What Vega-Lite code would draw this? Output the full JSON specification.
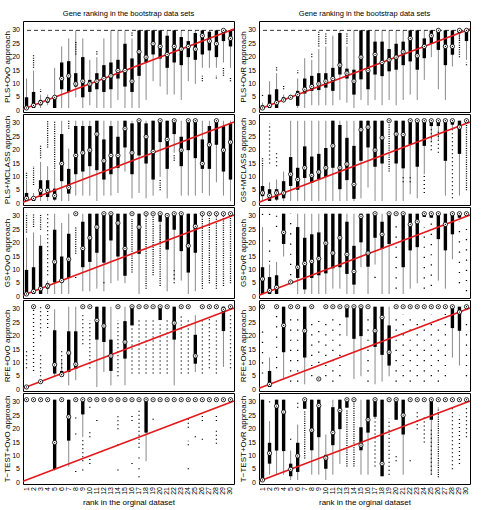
{
  "$schema": "https://vega.github.io/schema/vega-lite/v6.json",
  "padding": {"left": 2, "top": 9, "right": 5, "bottom": 2},
  "background": "white",
  "config": {
    "font": "Liberation Sans",
    "view": {"stroke": "black", "strokeWidth": 1},
    "axis": {"grid": false, "domain": false, "ticks": false, "labels": false, "titleFontSize": 8, "titleFontWeight": "normal", "titleColor": "black", "titlePadding": 12},
    "axisX": {"titlePadding": 14},
    "text": {"fontSize": 7, "color": "black"},
    "title": {"fontSize": 7.5, "fontWeight": "normal", "offset": 4}
  },
  "datasets": {
    "diag": [{"r": 0.5, "v": 0.5}, {"r": 30.5, "v": 30.5}],
    "yt": [{"v": 0}, {"v": 5}, {"v": 10}, {"v": 15}, {"v": 20}, {"v": 25}, {"v": 30}],
    "xt": [{"r":1},{"r":2},{"r":3},{"r":4},{"r":5},{"r":6},{"r":7},{"r":8},{"r":9},{"r":10},{"r":11},{"r":12},{"r":13},{"r":14},{"r":15},{"r":16},{"r":17},{"r":18},{"r":19},{"r":20},{"r":21},{"r":22},{"r":23},{"r":24},{"r":25},{"r":26},{"r":27},{"r":28},{"r":29},{"r":30}],
    "box": [
      {"p":"L1","r":1,"lo":1,"q1":1,"m":1,"q3":5,"hi":12},{"p":"L1","r":2,"lo":1,"q1":1,"m":2,"q3":7,"hi":15},{"p":"L1","r":3,"lo":1,"q1":2,"m":3,"q3":4,"hi":6},{"p":"L1","r":4,"lo":2,"q1":3,"m":4,"q3":5,"hi":6},{"p":"L1","r":5,"lo":1,"q1":1,"m":5,"q3":5.5,"hi":16},{"p":"L1","r":6,"lo":1,"q1":8,"m":12,"q3":18,"hi":24},{"p":"L1","r":7,"lo":1,"q1":7,"m":13,"q3":18.5,"hi":27},{"p":"L1","r":8,"lo":5,"q1":9,"m":10,"q3":14,"hi":30},{"p":"L1","r":9,"lo":1,"q1":5,"m":11,"q3":20,"hi":27},{"p":"L1","r":10,"lo":2,"q1":7,"m":10,"q3":11.5,"hi":19},
      {"p":"L1","r":11,"lo":1,"q1":8,"m":11,"q3":14,"hi":20},{"p":"L1","r":12,"lo":1,"q1":7,"m":12,"q3":17,"hi":27},{"p":"L1","r":13,"lo":1,"q1":8,"m":13,"q3":18,"hi":30},{"p":"L1","r":14,"lo":4,"q1":12,"m":15,"q3":19,"hi":30},{"p":"L1","r":15,"lo":1,"q1":9,"m":15,"q3":25,"hi":30},{"p":"L1","r":16,"lo":1,"q1":7,"m":11,"q3":19.5,"hi":27},{"p":"L1","r":17,"lo":1,"q1":13,"m":22,"q3":30,"hi":30},{"p":"L1","r":18,"lo":4,"q1":18,"m":20,"q3":30,"hi":30},{"p":"L1","r":19,"lo":11,"q1":21,"m":25,"q3":30,"hi":30},{"p":"L1","r":20,"lo":9,"q1":19.5,"m":24,"q3":30,"hi":30},
      {"p":"L1","r":21,"lo":6,"q1":16,"m":21,"q3":28,"hi":30},{"p":"L1","r":22,"lo":6,"q1":18,"m":24,"q3":30,"hi":30},{"p":"L1","r":23,"lo":4,"q1":17,"m":23,"q3":27.5,"hi":30},{"p":"L1","r":24,"lo":11,"q1":20,"m":24,"q3":26,"hi":30},{"p":"L1","r":25,"lo":10,"q1":19,"m":23,"q3":29,"hi":30},{"p":"L1","r":26,"lo":16,"q1":21,"m":28,"q3":30,"hi":30},{"p":"L1","r":27,"lo":16,"q1":22.5,"m":26,"q3":29.5,"hi":30},{"p":"L1","r":28,"lo":16,"q1":20,"m":25,"q3":30,"hi":30},{"p":"L1","r":29,"lo":18,"q1":26,"m":30,"q3":30,"hi":30},{"p":"L1","r":30,"lo":16,"q1":24,"m":27,"q3":30,"hi":30},

      {"p":"L2","r":1,"lo":1,"q1":1,"m":2,"q3":4,"hi":9},{"p":"L2","r":2,"lo":1,"q1":1,"m":2,"q3":2.5,"hi":4},{"p":"L2","r":3,"lo":1,"q1":2.5,"m":5,"q3":8.75,"hi":15.6},{"p":"L2","r":4,"lo":1,"q1":2.5,"m":5,"q3":8.75,"hi":14},{"p":"L2","r":5,"lo":1,"q1":1.5,"m":3,"q3":5.6,"hi":12.5},{"p":"L2","r":6,"lo":1,"q1":8.4,"m":15,"q3":26,"hi":31},{"p":"L2","r":7,"lo":1,"q1":3.75,"m":6,"q3":13,"hi":20.6},{"p":"L2","r":8,"lo":3,"q1":11,"m":18,"q3":29,"hi":31},{"p":"L2","r":9,"lo":3,"q1":12,"m":19,"q3":29,"hi":31},{"p":"L2","r":10,"lo":3,"q1":14,"m":20,"q3":29,"hi":31},
      {"p":"L2","r":11,"lo":1,"q1":12.5,"m":26,"q3":31,"hi":31},{"p":"L2","r":12,"lo":3,"q1":9,"m":16,"q3":24,"hi":31},{"p":"L2","r":13,"lo":3,"q1":11,"m":18,"q3":29,"hi":31},{"p":"L2","r":14,"lo":4,"q1":13.4,"m":18,"q3":25,"hi":31},{"p":"L2","r":15,"lo":12,"q1":21,"m":28,"q3":31,"hi":31},{"p":"L2","r":16,"lo":2,"q1":11,"m":19,"q3":30,"hi":31},{"p":"L2","r":17,"lo":4,"q1":18,"m":31,"q3":31,"hi":31},{"p":"L2","r":18,"lo":2,"q1":15,"m":25,"q3":30,"hi":31},{"p":"L2","r":19,"lo":3,"q1":9,"m":19.5,"q3":31,"hi":31},{"p":"L2","r":20,"lo":10,"q1":23,"m":31,"q3":31,"hi":31},
      {"p":"L2","r":21,"lo":2,"q1":13,"m":24,"q3":31,"hi":31},{"p":"L2","r":22,"lo":19,"q1":26,"m":31,"q3":31,"hi":31},{"p":"L2","r":23,"lo":3,"q1":14,"m":20,"q3":25,"hi":31},{"p":"L2","r":24,"lo":3,"q1":20,"m":31,"q3":31,"hi":31},{"p":"L2","r":25,"lo":3,"q1":17,"m":31,"q3":31,"hi":31},{"p":"L2","r":26,"lo":4,"q1":13,"m":15,"q3":24,"hi":31},{"p":"L2","r":27,"lo":3,"q1":13,"m":22,"q3":29,"hi":31},{"p":"L2","r":28,"lo":8,"q1":22,"m":31,"q3":31,"hi":31},{"p":"L2","r":29,"lo":3,"q1":12,"m":20,"q3":29,"hi":31},{"p":"L2","r":30,"lo":1,"q1":9,"m":23,"q3":30,"hi":31},

      {"p":"L3","r":1,"lo":1,"q1":1,"m":1,"q3":10,"hi":22},{"p":"L3","r":2,"lo":1,"q1":1,"m":2,"q3":11,"hi":24},{"p":"L3","r":3,"lo":1,"q1":1,"m":3,"q3":19,"hi":23},{"p":"L3","r":4,"lo":1,"q1":3,"m":4,"q3":5,"hi":6},{"p":"L3","r":5,"lo":1,"q1":5.3,"m":13,"q3":25,"hi":31},{"p":"L3","r":6,"lo":1,"q1":5.3,"m":6,"q3":15,"hi":27.5},{"p":"L3","r":7,"lo":1,"q1":7,"m":14,"q3":23.5,"hi":31},{"p":"L3","r":8,"lo":31,"q1":31,"m":31,"q3":31,"hi":31},{"p":"L3","r":9,"lo":2,"q1":11,"m":18,"q3":28,"hi":31},{"p":"L3","r":10,"lo":2,"q1":13,"m":22,"q3":31,"hi":31},
      {"p":"L3","r":11,"lo":3,"q1":16.4,"m":26,"q3":31,"hi":31},{"p":"L3","r":12,"lo":2,"q1":12.7,"m":31,"q3":31,"hi":31},{"p":"L3","r":13,"lo":5,"q1":21,"m":31,"q3":31,"hi":31},{"p":"L3","r":14,"lo":6,"q1":15,"m":27.5,"q3":31,"hi":31},{"p":"L3","r":15,"lo":5,"q1":7.8,"m":18,"q3":31,"hi":31},{"p":"L3","r":16,"lo":31,"q1":31,"m":31,"q3":31,"hi":31},{"p":"L3","r":17,"lo":1,"q1":16,"m":26,"q3":31,"hi":31},{"p":"L3","r":18,"lo":31,"q1":31,"m":31,"q3":31,"hi":31},{"p":"L3","r":19,"lo":31,"q1":31,"m":31,"q3":31,"hi":31},{"p":"L3","r":20,"lo":20,"q1":28,"m":31,"q3":31,"hi":31},
      {"p":"L3","r":21,"lo":2,"q1":17.6,"m":30.3,"q3":31,"hi":31},{"p":"L3","r":22,"lo":6,"q1":25,"m":31,"q3":31,"hi":31},{"p":"L3","r":23,"lo":6,"q1":17,"m":31,"q3":31,"hi":31},{"p":"L3","r":24,"lo":1,"q1":9,"m":19,"q3":31,"hi":31},{"p":"L3","r":25,"lo":2,"q1":16.4,"m":26.3,"q3":31,"hi":31},{"p":"L3","r":26,"lo":31,"q1":31,"m":31,"q3":31,"hi":31},{"p":"L3","r":27,"lo":31,"q1":31,"m":31,"q3":31,"hi":31},{"p":"L3","r":28,"lo":31,"q1":31,"m":31,"q3":31,"hi":31},{"p":"L3","r":29,"lo":31,"q1":31,"m":31,"q3":31,"hi":31},{"p":"L3","r":30,"lo":31,"q1":31,"m":31,"q3":31,"hi":31},

      {"p":"L4","r":1,"lo":1,"q1":1,"m":1,"q3":1,"hi":1},{"p":"L4","r":2,"lo":31,"q1":31,"m":31,"q3":31,"hi":31},{"p":"L4","r":3,"lo":3,"q1":3,"m":3,"q3":3,"hi":3},{"p":"L4","r":4,"lo":31,"q1":31,"m":31,"q3":31,"hi":31},{"p":"L4","r":5,"lo":5,"q1":6,"m":9.3,"q3":22.2,"hi":30},{"p":"L4","r":6,"lo":5,"q1":5,"m":5.6,"q3":7,"hi":11},{"p":"L4","r":7,"lo":1.6,"q1":6.6,"m":13.7,"q3":21.8,"hi":31},{"p":"L4","r":8,"lo":3.5,"q1":7.8,"m":9.5,"q3":21.8,"hi":31},{"p":"L4","r":9,"lo":31,"q1":31,"m":31,"q3":31,"hi":31},{"p":"L4","r":10,"lo":31,"q1":31,"m":31,"q3":31,"hi":31},
      {"p":"L4","r":11,"lo":1,"q1":18.7,"m":25.9,"q3":31,"hi":31},{"p":"L4","r":12,"lo":6.6,"q1":17.8,"m":23.8,"q3":31,"hi":31},{"p":"L4","r":13,"lo":1.6,"q1":7,"m":12.6,"q3":18.7,"hi":31},{"p":"L4","r":14,"lo":31,"q1":31,"m":31,"q3":31,"hi":31},{"p":"L4","r":15,"lo":1.6,"q1":11.6,"m":17.8,"q3":25.6,"hi":31},{"p":"L4","r":16,"lo":24,"q1":24,"m":31,"q3":31,"hi":31},{"p":"L4","r":17,"lo":31,"q1":31,"m":31,"q3":31,"hi":31},{"p":"L4","r":18,"lo":31,"q1":31,"m":31,"q3":31,"hi":31},{"p":"L4","r":19,"lo":31,"q1":31,"m":31,"q3":31,"hi":31},{"p":"L4","r":20,"lo":26,"q1":26,"m":31,"q3":31,"hi":31},
      {"p":"L4","r":21,"lo":31,"q1":31,"m":31,"q3":31,"hi":31},{"p":"L4","r":22,"lo":1.6,"q1":18.7,"m":24.9,"q3":31,"hi":31},{"p":"L4","r":23,"lo":31,"q1":31,"m":31,"q3":31,"hi":31},{"p":"L4","r":24,"lo":31,"q1":31,"m":31,"q3":31,"hi":31},{"p":"L4","r":25,"lo":6.6,"q1":9.7,"m":12.6,"q3":20.5,"hi":27.8},{"p":"L4","r":26,"lo":31,"q1":31,"m":31,"q3":31,"hi":31},{"p":"L4","r":27,"lo":31,"q1":31,"m":31,"q3":31,"hi":31},{"p":"L4","r":28,"lo":31,"q1":31,"m":31,"q3":31,"hi":31},{"p":"L4","r":29,"lo":8.5,"q1":21.9,"m":30,"q3":31,"hi":31},{"p":"L4","r":30,"lo":31,"q1":31,"m":31,"q3":31,"hi":31},

      {"p":"L5","r":1,"lo":31,"q1":31,"m":31,"q3":31,"hi":31},{"p":"L5","r":2,"lo":31,"q1":31,"m":31,"q3":31,"hi":31},{"p":"L5","r":3,"lo":31,"q1":31,"m":31,"q3":31,"hi":31},{"p":"L5","r":4,"lo":31,"q1":31,"m":31,"q3":31,"hi":31},{"p":"L5","r":5,"lo":4.5,"q1":5,"m":15,"q3":31,"hi":31},{"p":"L5","r":6,"lo":31,"q1":31,"m":31,"q3":31,"hi":31},{"p":"L5","r":7,"lo":6,"q1":15.7,"m":24.6,"q3":31,"hi":31},{"p":"L5","r":8,"lo":31,"q1":31,"m":31,"q3":31,"hi":31},{"p":"L5","r":9,"lo":17,"q1":25.5,"m":31,"q3":31,"hi":31},{"p":"L5","r":10,"lo":31,"q1":31,"m":31,"q3":31,"hi":31},
      {"p":"L5","r":11,"lo":31,"q1":31,"m":31,"q3":31,"hi":31},{"p":"L5","r":12,"lo":31,"q1":31,"m":31,"q3":31,"hi":31},{"p":"L5","r":13,"lo":31,"q1":31,"m":31,"q3":31,"hi":31},{"p":"L5","r":14,"lo":31,"q1":31,"m":31,"q3":31,"hi":31},{"p":"L5","r":15,"lo":31,"q1":31,"m":31,"q3":31,"hi":31},{"p":"L5","r":16,"lo":31,"q1":31,"m":31,"q3":31,"hi":31},{"p":"L5","r":17,"lo":31,"q1":31,"m":31,"q3":31,"hi":31},{"p":"L5","r":18,"lo":8,"q1":18.7,"m":31,"q3":31,"hi":31},{"p":"L5","r":19,"lo":31,"q1":31,"m":31,"q3":31,"hi":31},{"p":"L5","r":20,"lo":31,"q1":31,"m":31,"q3":31,"hi":31},
      {"p":"L5","r":21,"lo":31,"q1":31,"m":31,"q3":31,"hi":31},{"p":"L5","r":22,"lo":31,"q1":31,"m":31,"q3":31,"hi":31},{"p":"L5","r":23,"lo":31,"q1":31,"m":31,"q3":31,"hi":31},{"p":"L5","r":24,"lo":31,"q1":31,"m":31,"q3":31,"hi":31},{"p":"L5","r":25,"lo":31,"q1":31,"m":31,"q3":31,"hi":31},{"p":"L5","r":26,"lo":31,"q1":31,"m":31,"q3":31,"hi":31},{"p":"L5","r":27,"lo":31,"q1":31,"m":31,"q3":31,"hi":31},{"p":"L5","r":28,"lo":31,"q1":31,"m":31,"q3":31,"hi":31},{"p":"L5","r":29,"lo":31,"q1":31,"m":31,"q3":31,"hi":31},{"p":"L5","r":30,"lo":31,"q1":31,"m":31,"q3":31,"hi":31},

      {"p":"R1","r":1,"lo":1,"q1":1,"m":1,"q3":2,"hi":3},{"p":"R1","r":2,"lo":1,"q1":1,"m":2,"q3":6,"hi":11},{"p":"R1","r":3,"lo":1,"q1":1,"m":3,"q3":8,"hi":14},{"p":"R1","r":4,"lo":3,"q1":4,"m":4,"q3":5,"hi":6},{"p":"R1","r":5,"lo":4,"q1":5,"m":5,"q3":5.5,"hi":6},{"p":"R1","r":6,"lo":1,"q1":1.8,"m":6,"q3":7.4,"hi":12},{"p":"R1","r":7,"lo":1,"q1":6.4,"m":8,"q3":12,"hi":19.6},{"p":"R1","r":8,"lo":2,"q1":7.4,"m":9,"q3":13,"hi":19},{"p":"R1","r":9,"lo":2,"q1":7.7,"m":10,"q3":14,"hi":23},{"p":"R1","r":10,"lo":2,"q1":8.6,"m":11,"q3":14,"hi":24},
      {"p":"R1","r":11,"lo":2,"q1":7.4,"m":12,"q3":16,"hi":28},{"p":"R1","r":12,"lo":4,"q1":13.5,"m":17,"q3":29,"hi":30},{"p":"R1","r":13,"lo":3,"q1":12,"m":14,"q3":15.7,"hi":24},{"p":"R1","r":14,"lo":1,"q1":6,"m":11,"q3":15.3,"hi":30},{"p":"R1","r":15,"lo":4,"q1":11.7,"m":20,"q3":30,"hi":30},{"p":"R1","r":16,"lo":2,"q1":8,"m":15,"q3":30,"hi":30},{"p":"R1","r":17,"lo":4,"q1":13.5,"m":21,"q3":25.8,"hi":30},{"p":"R1","r":18,"lo":2,"q1":12.9,"m":18,"q3":25.8,"hi":30},{"p":"R1","r":19,"lo":4,"q1":14.7,"m":19,"q3":23,"hi":30},{"p":"R1","r":20,"lo":2,"q1":15.3,"m":20,"q3":25,"hi":30},
      {"p":"R1","r":21,"lo":4,"q1":17,"m":22,"q3":25.8,"hi":30},{"p":"R1","r":22,"lo":6,"q1":18.4,"m":27,"q3":30,"hi":30},{"p":"R1","r":23,"lo":4,"q1":15.3,"m":20.5,"q3":30,"hi":30},{"p":"R1","r":24,"lo":11.5,"q1":19.6,"m":24,"q3":27,"hi":30},{"p":"R1","r":25,"lo":20,"q1":25,"m":28,"q3":30,"hi":30},{"p":"R1","r":26,"lo":8,"q1":22.7,"m":30,"q3":30,"hi":30},{"p":"R1","r":27,"lo":4,"q1":17,"m":24,"q3":30,"hi":30},{"p":"R1","r":28,"lo":16.5,"q1":20.9,"m":24,"q3":30,"hi":30},{"p":"R1","r":29,"lo":26,"q1":29,"m":30,"q3":30,"hi":30},{"p":"R1","r":30,"lo":19,"q1":26,"m":30,"q3":30,"hi":30},

      {"p":"R2","r":1,"lo":1,"q1":2.8,"m":4,"q3":6.6,"hi":13.8},{"p":"R2","r":2,"lo":1,"q1":1,"m":3,"q3":5.4,"hi":8},{"p":"R2","r":3,"lo":1,"q1":1.5,"m":4,"q3":5.4,"hi":9},{"p":"R2","r":4,"lo":1,"q1":2,"m":4,"q3":8.4,"hi":12},{"p":"R2","r":5,"lo":1,"q1":6.6,"m":11,"q3":17.4,"hi":31},{"p":"R2","r":6,"lo":1,"q1":5.2,"m":9,"q3":13.4,"hi":31},{"p":"R2","r":7,"lo":1,"q1":9.6,"m":13.4,"q3":21.4,"hi":31},{"p":"R2","r":8,"lo":1,"q1":7.8,"m":10.6,"q3":17.6,"hi":31},{"p":"R2","r":9,"lo":1,"q1":9.2,"m":11.8,"q3":18.6,"hi":31},{"p":"R2","r":10,"lo":1,"q1":10,"m":13.4,"q3":20.8,"hi":31},
      {"p":"R2","r":11,"lo":1,"q1":13.4,"m":21.6,"q3":31,"hi":31},{"p":"R2","r":12,"lo":1,"q1":5.4,"m":13.4,"q3":29.4,"hi":31},{"p":"R2","r":13,"lo":1,"q1":8.8,"m":14.8,"q3":24.6,"hi":31},{"p":"R2","r":14,"lo":1,"q1":1.8,"m":7.2,"q3":21.6,"hi":31},{"p":"R2","r":15,"lo":2,"q1":16,"m":27.6,"q3":31,"hi":31},{"p":"R2","r":16,"lo":6,"q1":21,"m":28.6,"q3":31,"hi":31},{"p":"R2","r":17,"lo":1,"q1":13.8,"m":20,"q3":31,"hi":31},{"p":"R2","r":18,"lo":1,"q1":15,"m":24.6,"q3":31,"hi":31},{"p":"R2","r":19,"lo":31,"q1":31,"m":31,"q3":31,"hi":31},{"p":"R2","r":20,"lo":1,"q1":15,"m":26,"q3":31,"hi":31},
      {"p":"R2","r":21,"lo":1,"q1":13.2,"m":25.8,"q3":31,"hi":31},{"p":"R2","r":22,"lo":3.5,"q1":22,"m":31,"q3":31,"hi":31},{"p":"R2","r":23,"lo":2,"q1":13.8,"m":31,"q3":31,"hi":31},{"p":"R2","r":24,"lo":11,"q1":21.6,"m":31,"q3":31,"hi":31},{"p":"R2","r":25,"lo":23,"q1":29,"m":31,"q3":31,"hi":31},{"p":"R2","r":26,"lo":24,"q1":29,"m":31,"q3":31,"hi":31},{"p":"R2","r":27,"lo":3,"q1":16,"m":31,"q3":31,"hi":31},{"p":"R2","r":28,"lo":28,"q1":29.5,"m":31,"q3":31,"hi":31},{"p":"R2","r":29,"lo":3,"q1":18.6,"m":28.6,"q3":31,"hi":31},{"p":"R2","r":30,"lo":31,"q1":31,"m":31,"q3":31,"hi":31},

      {"p":"R3","r":1,"lo":1,"q1":1,"m":6.6,"q3":11,"hi":26},{"p":"R3","r":2,"lo":1,"q1":1,"m":2.3,"q3":7.3,"hi":12},{"p":"R3","r":3,"lo":1,"q1":1,"m":3.5,"q3":8,"hi":13},{"p":"R3","r":4,"lo":15,"q1":19.7,"m":24,"q3":31,"hi":31},{"p":"R3","r":5,"lo":5.5,"q1":5.5,"m":5.5,"q3":5.5,"hi":5.5},{"p":"R3","r":6,"lo":1,"q1":7,"m":11,"q3":26,"hi":31},{"p":"R3","r":7,"lo":1,"q1":2.7,"m":12.4,"q3":22,"hi":31},{"p":"R3","r":8,"lo":1,"q1":7,"m":13.2,"q3":23.3,"hi":31},{"p":"R3","r":9,"lo":1,"q1":8,"m":14.2,"q3":24,"hi":31},{"p":"R3","r":10,"lo":1,"q1":8.7,"m":20,"q3":31,"hi":31},
      {"p":"R3","r":11,"lo":3,"q1":10.6,"m":16.3,"q3":31,"hi":31},{"p":"R3","r":12,"lo":3,"q1":11,"m":22,"q3":31,"hi":31},{"p":"R3","r":13,"lo":1,"q1":8.5,"m":15.8,"q3":28,"hi":31},{"p":"R3","r":14,"lo":1,"q1":4.5,"m":9.4,"q3":19,"hi":31},{"p":"R3","r":15,"lo":11,"q1":20.3,"m":30,"q3":31,"hi":31},{"p":"R3","r":16,"lo":1,"q1":11.2,"m":16.3,"q3":31,"hi":31},{"p":"R3","r":17,"lo":12,"q1":22,"m":31,"q3":31,"hi":31},{"p":"R3","r":18,"lo":1,"q1":17.9,"m":23.3,"q3":28,"hi":31},{"p":"R3","r":19,"lo":1,"q1":19.7,"m":31,"q3":31,"hi":31},{"p":"R3","r":20,"lo":31,"q1":31,"m":31,"q3":31,"hi":31},
      {"p":"R3","r":21,"lo":1,"q1":11,"m":31,"q3":31,"hi":31},{"p":"R3","r":22,"lo":3,"q1":17.3,"m":27,"q3":31,"hi":31},{"p":"R3","r":23,"lo":5,"q1":18.5,"m":28,"q3":31,"hi":31},{"p":"R3","r":24,"lo":29.8,"q1":29.8,"m":31,"q3":31,"hi":31},{"p":"R3","r":25,"lo":29.5,"q1":29.5,"m":31,"q3":31,"hi":31},{"p":"R3","r":26,"lo":6,"q1":21.5,"m":31,"q3":31,"hi":31},{"p":"R3","r":27,"lo":3,"q1":17.3,"m":27,"q3":31,"hi":31},{"p":"R3","r":28,"lo":14,"q1":23.3,"m":31,"q3":31,"hi":31},{"p":"R3","r":29,"lo":29,"q1":29.5,"m":31,"q3":31,"hi":31},{"p":"R3","r":30,"lo":31,"q1":31,"m":31,"q3":31,"hi":31},

      {"p":"R4","r":1,"lo":31,"q1":31,"m":31,"q3":31,"hi":31},{"p":"R4","r":2,"lo":1,"q1":1,"m":2,"q3":7,"hi":12},{"p":"R4","r":3,"lo":31,"q1":31,"m":31,"q3":31,"hi":31},{"p":"R4","r":4,"lo":4,"q1":14,"m":24,"q3":31,"hi":31},{"p":"R4","r":5,"lo":31,"q1":31,"m":31,"q3":31,"hi":31},{"p":"R4","r":6,"lo":31,"q1":31,"m":31,"q3":31,"hi":31},{"p":"R4","r":7,"lo":2,"q1":12,"m":22,"q3":31,"hi":31},{"p":"R4","r":8,"lo":31,"q1":31,"m":31,"q3":31,"hi":31},{"p":"R4","r":9,"lo":4,"q1":4,"m":4,"q3":4,"hi":4},{"p":"R4","r":10,"lo":31,"q1":31,"m":31,"q3":31,"hi":31},
      {"p":"R4","r":11,"lo":31,"q1":31,"m":31,"q3":31,"hi":31},{"p":"R4","r":12,"lo":31,"q1":31,"m":31,"q3":31,"hi":31},{"p":"R4","r":13,"lo":20,"q1":27,"m":31,"q3":31,"hi":31},{"p":"R4","r":14,"lo":4,"q1":19,"m":31,"q3":31,"hi":31},{"p":"R4","r":15,"lo":5,"q1":20,"m":31,"q3":31,"hi":31},{"p":"R4","r":16,"lo":31,"q1":31,"m":31,"q3":31,"hi":31},{"p":"R4","r":17,"lo":2,"q1":16,"m":22,"q3":31,"hi":31},{"p":"R4","r":18,"lo":3,"q1":13,"m":27,"q3":31,"hi":31},{"p":"R4","r":19,"lo":5,"q1":9,"m":14,"q3":24,"hi":31},{"p":"R4","r":20,"lo":31,"q1":31,"m":31,"q3":31,"hi":31},
      {"p":"R4","r":21,"lo":31,"q1":31,"m":31,"q3":31,"hi":31},{"p":"R4","r":22,"lo":31,"q1":31,"m":31,"q3":31,"hi":31},{"p":"R4","r":23,"lo":31,"q1":31,"m":31,"q3":31,"hi":31},{"p":"R4","r":24,"lo":31,"q1":31,"m":31,"q3":31,"hi":31},{"p":"R4","r":25,"lo":31,"q1":31,"m":31,"q3":31,"hi":31},{"p":"R4","r":26,"lo":31,"q1":31,"m":31,"q3":31,"hi":31},{"p":"R4","r":27,"lo":31,"q1":31,"m":31,"q3":31,"hi":31},{"p":"R4","r":28,"lo":12,"q1":23,"m":31,"q3":31,"hi":31},{"p":"R4","r":29,"lo":9,"q1":22,"m":29,"q3":31,"hi":31},{"p":"R4","r":30,"lo":31,"q1":31,"m":31,"q3":31,"hi":31},

      {"p":"R5","r":1,"lo":1,"q1":1,"m":1,"q3":31,"hi":31},{"p":"R5","r":2,"lo":3,"q1":7.1,"m":11,"q3":14.9,"hi":23},{"p":"R5","r":3,"lo":3,"q1":12,"m":28.6,"q3":31,"hi":31},{"p":"R5","r":4,"lo":3,"q1":11.8,"m":26.4,"q3":31,"hi":31},{"p":"R5","r":5,"lo":1,"q1":2.4,"m":5,"q3":7.1,"hi":12},{"p":"R5","r":6,"lo":1,"q1":4,"m":10,"q3":14.9,"hi":21.7},{"p":"R5","r":7,"lo":27.6,"q1":27.6,"m":31,"q3":31,"hi":31},{"p":"R5","r":8,"lo":3,"q1":12.1,"m":19.6,"q3":31,"hi":31},{"p":"R5","r":9,"lo":3,"q1":17,"m":28.8,"q3":31,"hi":31},{"p":"R5","r":10,"lo":1,"q1":5.2,"m":9.2,"q3":10.4,"hi":18},
      {"p":"R5","r":11,"lo":3,"q1":14,"m":18.7,"q3":28.2,"hi":31},{"p":"R5","r":12,"lo":7,"q1":20,"m":27,"q3":31,"hi":31},{"p":"R5","r":13,"lo":28,"q1":28,"m":31,"q3":31,"hi":31},{"p":"R5","r":14,"lo":31,"q1":31,"m":31,"q3":31,"hi":31},{"p":"R5","r":15,"lo":3,"q1":12.1,"m":14,"q3":20.7,"hi":31},{"p":"R5","r":16,"lo":3,"q1":18.7,"m":23.5,"q3":31,"hi":31},{"p":"R5","r":17,"lo":24.6,"q1":24.6,"m":31,"q3":31,"hi":31},{"p":"R5","r":18,"lo":2.4,"q1":2.4,"m":7.1,"q3":31,"hi":31},{"p":"R5","r":19,"lo":31,"q1":31,"m":31,"q3":31,"hi":31},{"p":"R5","r":20,"lo":23.5,"q1":23.5,"m":31,"q3":31,"hi":31},
      {"p":"R5","r":21,"lo":3,"q1":18,"m":25.2,"q3":31,"hi":31},{"p":"R5","r":22,"lo":31,"q1":31,"m":31,"q3":31,"hi":31},{"p":"R5","r":23,"lo":31,"q1":31,"m":31,"q3":31,"hi":31},{"p":"R5","r":24,"lo":31,"q1":31,"m":31,"q3":31,"hi":31},{"p":"R5","r":25,"lo":3.2,"q1":23.5,"m":31,"q3":31,"hi":31},{"p":"R5","r":26,"lo":31,"q1":31,"m":31,"q3":31,"hi":31},{"p":"R5","r":27,"lo":31,"q1":31,"m":31,"q3":31,"hi":31},{"p":"R5","r":28,"lo":31,"q1":31,"m":31,"q3":31,"hi":31},{"p":"R5","r":29,"lo":31,"q1":31,"m":31,"q3":31,"hi":31},{"p":"R5","r":30,"lo":31,"q1":31,"m":31,"q3":31,"hi":31}
    ],
    "dense": [
      {"p":"L1","r":2,"lo":16,"hi":21},{"p":"L1","r":3,"lo":7,"hi":8},{"p":"L1","r":8,"lo":21,"hi":26},{"p":"L1","r":11,"lo":21,"hi":22.5},{"p":"L1","r":16,"lo":28,"hi":29.5},{"p":"L1","r":26,"lo":11,"hi":13},{"p":"L1","r":28,"lo":12,"hi":13},{"p":"L1","r":29,"lo":13,"hi":16},{"p":"L1","r":30,"lo":11,"hi":12.5},
      {"p":"L2","r":1,"lo":9.5,"hi":12},{"p":"L2","r":2,"lo":7,"hi":14},{"p":"L2","r":3,"lo":17,"hi":22},{"p":"L2","r":4,"lo":21,"hi":31},{"p":"L2","r":5,"lo":13,"hi":31},{"p":"L2","r":7,"lo":28,"hi":31},{"p":"L2","r":20,"lo":5,"hi":9},{"p":"L2","r":22,"lo":16,"hi":18.5},
      {"p":"L3","r":1,"lo":24,"hi":31},{"p":"L3","r":2,"lo":26,"hi":31},{"p":"L3","r":3,"lo":25,"hi":31},{"p":"L3","r":8,"lo":16,"hi":26},{"p":"L3","r":16,"lo":9,"hi":29},{"p":"L3","r":18,"lo":3,"hi":31},{"p":"L3","r":19,"lo":8,"hi":30},{"p":"L3","r":20,"lo":4,"hi":27},{"p":"L3","r":26,"lo":3,"hi":30},{"p":"L3","r":27,"lo":5,"hi":30},{"p":"L3","r":28,"lo":3,"hi":30},{"p":"L3","r":29,"lo":4,"hi":30},{"p":"L3","r":30,"lo":5,"hi":30},
      {"p":"R1","r":1,"lo":5.5,"hi":6},{"p":"R1","r":3,"lo":15,"hi":16.5},{"p":"R1","r":4,"lo":8,"hi":9.5},{"p":"R1","r":6,"lo":14,"hi":15},{"p":"R1","r":8,"lo":20,"hi":21.5},{"p":"R1","r":9,"lo":24,"hi":30},{"p":"R1","r":10,"lo":25,"hi":29},{"p":"R1","r":13,"lo":25,"hi":29},{"p":"R1","r":16,"lo":28.5,"hi":30},{"p":"R1","r":28,"lo":21.5,"hi":30},{"p":"R1","r":29,"lo":20,"hi":30},{"p":"R1","r":30,"lo":17,"hi":18},
      {"p":"R2","r":1,"lo":14,"hi":17},{"p":"R2","r":19,"lo":12,"hi":30},{"p":"R2","r":30,"lo":5,"hi":30},
      {"p":"R5","r":7,"lo":9,"hi":27},{"p":"R5","r":13,"lo":6,"hi":27},{"p":"R5","r":14,"lo":6,"hi":31},{"p":"R5","r":26,"lo":2,"hi":28}
    ],
    "sparse": [
      {"p":"L3","r":4,"lo":8,"hi":31},{"p":"L3","r":8,"lo":7,"hi":7.5},{"p":"L3","r":12,"lo":5,"hi":5.5},{"p":"L3","r":22,"lo":5,"hi":10},
      {"p":"L4","r":1,"lo":8,"hi":15},{"p":"L4","r":2,"lo":7,"hi":30},{"p":"L4","r":3,"lo":20,"hi":31},{"p":"L4","r":3,"lo":5,"hi":14},{"p":"L4","r":4,"lo":23,"hi":30},{"p":"L4","r":6,"lo":8,"hi":15},{"p":"L4","r":9,"lo":17,"hi":28},{"p":"L4","r":10,"lo":8,"hi":26},{"p":"L4","r":14,"lo":5,"hi":26},{"p":"L4","r":16,"lo":6,"hi":23},{"p":"L4","r":17,"lo":6,"hi":27},{"p":"L4","r":18,"lo":6,"hi":27},{"p":"L4","r":19,"lo":6,"hi":27},{"p":"L4","r":20,"lo":6,"hi":25},{"p":"L4","r":21,"lo":6,"hi":27},{"p":"L4","r":23,"lo":6,"hi":28},{"p":"L4","r":24,"lo":6,"hi":26},{"p":"L4","r":26,"lo":6,"hi":27},{"p":"L4","r":27,"lo":8,"hi":27},{"p":"L4","r":28,"lo":6,"hi":27},{"p":"L4","r":30,"lo":8,"hi":28},
      {"p":"L5","r":8,"lo":4,"hi":5},{"p":"L5","r":8,"lo":18,"hi":19},{"p":"L5","r":8,"lo":24,"hi":25},{"p":"L5","r":9,"lo":8,"hi":17},{"p":"L5","r":9,"lo":4.5,"hi":5.5},{"p":"L5","r":10,"lo":28,"hi":29},{"p":"L5","r":10,"lo":17,"hi":19},{"p":"L5","r":10,"lo":7,"hi":10},{"p":"L5","r":11,"lo":23,"hi":23.5},{"p":"L5","r":14,"lo":20,"hi":25},{"p":"L5","r":14,"lo":14,"hi":15},{"p":"L5","r":14,"lo":4.5,"hi":5.5},{"p":"L5","r":16,"lo":23,"hi":26},{"p":"L5","r":16,"lo":7,"hi":7.5},{"p":"L5","r":17,"lo":13,"hi":27},{"p":"L5","r":17,"lo":9,"hi":9.5},{"p":"L5","r":17,"lo":5,"hi":5.5},{"p":"L5","r":17,"lo":2,"hi":2.5},{"p":"L5","r":19,"lo":23.5,"hi":24},{"p":"L5","r":24,"lo":20.5,"hi":24.6},{"p":"L5","r":24,"lo":14,"hi":15.7},{"p":"L5","r":24,"lo":5,"hi":5.5},{"p":"L5","r":25,"lo":17,"hi":17.5},{"p":"L5","r":26,"lo":23,"hi":25},{"p":"L5","r":26,"lo":16,"hi":17},{"p":"L5","r":28,"lo":23,"hi":25},{"p":"L5","r":28,"lo":14.5,"hi":20.5},
      {"p":"R2","r":2,"lo":15,"hi":30},{"p":"R2","r":3,"lo":14,"hi":20},{"p":"R2","r":21,"lo":8,"hi":10},{"p":"R2","r":22,"lo":8,"hi":10},{"p":"R2","r":24,"lo":4,"hi":11},{"p":"R2","r":25,"lo":20,"hi":28},{"p":"R2","r":26,"lo":19,"hi":28},{"p":"R2","r":28,"lo":2,"hi":28},
      {"p":"R5","r":2,"lo":30,"hi":31},{"p":"R5","r":5,"lo":16,"hi":17},{"p":"R5","r":6,"lo":28,"hi":30},{"p":"R5","r":17,"lo":6,"hi":25},{"p":"R5","r":19,"lo":3,"hi":24},{"p":"R5","r":20,"lo":8,"hi":10},{"p":"R5","r":22,"lo":8,"hi":8.5},{"p":"R5","r":23,"lo":20,"hi":27},{"p":"R5","r":24,"lo":15,"hi":25},{"p":"R5","r":25,"lo":3,"hi":20},{"p":"R5","r":28,"lo":5,"hi":28},{"p":"R5","r":29,"lo":7,"hi":25},{"p":"R5","r":30,"lo":17,"hi":28}
    ],
    "scat": [
      {"p":"R3","r":1,"lo":30.5,"hi":31},{"p":"R3","r":2,"lo":13,"hi":23},{"p":"R3","r":2,"lo":30.5,"hi":31},{"p":"R3","r":3,"lo":26,"hi":31},{"p":"R3","r":5,"lo":8,"hi":31},{"p":"R3","r":17,"lo":7,"hi":7.5},{"p":"R3","r":20,"lo":3,"hi":27},{"p":"R3","r":24,"lo":3,"hi":26},{"p":"R3","r":25,"lo":4,"hi":28},{"p":"R3","r":29,"lo":5,"hi":28},{"p":"R3","r":30,"lo":2,"hi":27},
      {"p":"R4","r":1,"lo":6,"hi":25},{"p":"R4","r":3,"lo":8,"hi":29},{"p":"R4","r":5,"lo":3,"hi":29},{"p":"R4","r":6,"lo":3,"hi":27},{"p":"R4","r":8,"lo":5,"hi":27},{"p":"R4","r":9,"lo":10,"hi":29},{"p":"R4","r":10,"lo":5,"hi":27},{"p":"R4","r":11,"lo":3,"hi":29},{"p":"R4","r":12,"lo":5,"hi":27},{"p":"R4","r":16,"lo":3,"hi":28},{"p":"R4","r":20,"lo":3,"hi":29},{"p":"R4","r":21,"lo":5,"hi":28},{"p":"R4","r":22,"lo":3,"hi":29},{"p":"R4","r":23,"lo":5,"hi":27},{"p":"R4","r":24,"lo":3,"hi":29},{"p":"R4","r":25,"lo":5,"hi":28},{"p":"R4","r":26,"lo":3,"hi":27},{"p":"R4","r":27,"lo":5,"hi":29},{"p":"R4","r":30,"lo":5,"hi":26}
    ]
  },
  "hconcat": [
    {
      "spacing": 2,
      "bounds": "flush",
      "vconcat": [
        {
          "width": 211, "height": 91,
          "title": "Gene ranking in the bootstrap data sets",
          "layer": [
            {"data": {"name": "box"}, "transform": [{"filter": "datum.p == 'L1'"}], "mark": {"type": "rule", "color": "#8a8a8a", "strokeWidth": 1},
             "encoding": {"x": {"field": "r", "type": "quantitative", "scale": {"domain": [0.5, 30.5], "nice": false}, "axis": {"title": null}},
                          "y": {"field": "lo", "type": "quantitative", "scale": {"domain": [-0.5, 33.5], "nice": false}, "axis": {"title": "PLS+OvO approach"}}, "y2": {"field": "hi"}}},
            {"data": {"name": "dense"}, "transform": [{"filter": "datum.p == 'L1'"}], "mark": {"type": "rule", "color": "black", "strokeWidth": 1.3, "strokeDash": [1, 1.3]}, "encoding": {"x": {"field": "r", "type": "quantitative"}, "y": {"field": "lo", "type": "quantitative"}, "y2": {"field": "hi"}}},
            {"data": {"name": "box"}, "transform": [{"filter": "datum.p == 'L1'"}], "mark": {"type": "rule", "color": "black", "strokeWidth": 3.4}, "encoding": {"x": {"field": "r", "type": "quantitative"}, "y": {"field": "q1", "type": "quantitative"}, "y2": {"field": "q3"}}},
            {"data": {"values": [{}]}, "mark": {"type": "rule", "color": "black", "strokeWidth": 0.8, "strokeDash": [4, 3]}, "encoding": {"y": {"datum": 30, "type": "quantitative"}}},
            {"data": {"name": "diag"}, "mark": {"type": "line", "color": "#e3191c", "strokeWidth": 1.6}, "encoding": {"x": {"field": "r", "type": "quantitative"}, "y": {"field": "v", "type": "quantitative"}}},
            {"data": {"name": "box"}, "transform": [{"filter": "datum.p == 'L1'"}], "mark": {"type": "point", "shape": "circle", "filled": false, "fill": "white", "stroke": "black", "strokeWidth": 0.8, "size": 18, "opacity": 1}, "encoding": {"x": {"field": "r", "type": "quantitative"}, "y": {"field": "m", "type": "quantitative"}}},
            {"data": {"name": "box"}, "transform": [{"filter": "datum.p == 'L1'"}], "mark": {"type": "point", "shape": "circle", "filled": true, "color": "black", "size": 1.5, "opacity": 1}, "encoding": {"x": {"field": "r", "type": "quantitative"}, "y": {"field": "m", "type": "quantitative"}}},
            {"data": {"name": "yt"}, "mark": {"type": "text", "align": "right", "baseline": "middle", "dx": -3}, "encoding": {"x": {"datum": 0.5, "type": "quantitative"}, "y": {"field": "v", "type": "quantitative"}, "text": {"field": "v", "type": "quantitative"}}}
          ]
        },
        {
          "width": 211, "height": 91,
          "layer": [
            {"data": {"name": "box"}, "transform": [{"filter": "datum.p == 'L2'"}], "mark": {"type": "rule", "color": "#8a8a8a", "strokeWidth": 1},
             "encoding": {"x": {"field": "r", "type": "quantitative", "scale": {"domain": [0.5, 30.5], "nice": false}, "axis": {"title": null}},
                          "y": {"field": "lo", "type": "quantitative", "scale": {"domain": [-0.5, 33.5], "nice": false}, "axis": {"title": "PLS+MCLASS approach"}}, "y2": {"field": "hi"}}},
            {"data": {"name": "dense"}, "transform": [{"filter": "datum.p == 'L2'"}], "mark": {"type": "rule", "color": "black", "strokeWidth": 1.3, "strokeDash": [1, 1.3]}, "encoding": {"x": {"field": "r", "type": "quantitative"}, "y": {"field": "lo", "type": "quantitative"}, "y2": {"field": "hi"}}},
            {"data": {"name": "box"}, "transform": [{"filter": "datum.p == 'L2'"}], "mark": {"type": "rule", "color": "black", "strokeWidth": 3.4}, "encoding": {"x": {"field": "r", "type": "quantitative"}, "y": {"field": "q1", "type": "quantitative"}, "y2": {"field": "q3"}}},
            {"data": {"name": "diag"}, "mark": {"type": "line", "color": "#e3191c", "strokeWidth": 1.6}, "encoding": {"x": {"field": "r", "type": "quantitative"}, "y": {"field": "v", "type": "quantitative"}}},
            {"data": {"name": "box"}, "transform": [{"filter": "datum.p == 'L2'"}], "mark": {"type": "point", "shape": "circle", "filled": false, "fill": "white", "stroke": "black", "strokeWidth": 0.8, "size": 18, "opacity": 1}, "encoding": {"x": {"field": "r", "type": "quantitative"}, "y": {"field": "m", "type": "quantitative"}}},
            {"data": {"name": "box"}, "transform": [{"filter": "datum.p == 'L2'"}], "mark": {"type": "point", "shape": "circle", "filled": true, "color": "black", "size": 1.5, "opacity": 1}, "encoding": {"x": {"field": "r", "type": "quantitative"}, "y": {"field": "m", "type": "quantitative"}}},
            {"data": {"name": "yt"}, "mark": {"type": "text", "align": "right", "baseline": "middle", "dx": -3}, "encoding": {"x": {"datum": 0.5, "type": "quantitative"}, "y": {"field": "v", "type": "quantitative"}, "text": {"field": "v", "type": "quantitative"}}}
          ]
        },
        {
          "width": 211, "height": 91,
          "layer": [
            {"data": {"name": "box"}, "transform": [{"filter": "datum.p == 'L3'"}], "mark": {"type": "rule", "color": "#8a8a8a", "strokeWidth": 1},
             "encoding": {"x": {"field": "r", "type": "quantitative", "scale": {"domain": [0.5, 30.5], "nice": false}, "axis": {"title": null}},
                          "y": {"field": "lo", "type": "quantitative", "scale": {"domain": [-0.5, 33.5], "nice": false}, "axis": {"title": "GS+OvO approach"}}, "y2": {"field": "hi"}}},
            {"data": {"name": "dense"}, "transform": [{"filter": "datum.p == 'L3'"}], "mark": {"type": "rule", "color": "black", "strokeWidth": 1.3, "strokeDash": [1, 1.3]}, "encoding": {"x": {"field": "r", "type": "quantitative"}, "y": {"field": "lo", "type": "quantitative"}, "y2": {"field": "hi"}}},
            {"data": {"name": "sparse"}, "transform": [{"filter": "datum.p == 'L3'"}], "mark": {"type": "rule", "color": "black", "strokeWidth": 1.3, "strokeDash": [1, 3]}, "encoding": {"x": {"field": "r", "type": "quantitative"}, "y": {"field": "lo", "type": "quantitative"}, "y2": {"field": "hi"}}},
            {"data": {"name": "box"}, "transform": [{"filter": "datum.p == 'L3'"}], "mark": {"type": "rule", "color": "black", "strokeWidth": 3.4}, "encoding": {"x": {"field": "r", "type": "quantitative"}, "y": {"field": "q1", "type": "quantitative"}, "y2": {"field": "q3"}}},
            {"data": {"name": "diag"}, "mark": {"type": "line", "color": "#e3191c", "strokeWidth": 1.6}, "encoding": {"x": {"field": "r", "type": "quantitative"}, "y": {"field": "v", "type": "quantitative"}}},
            {"data": {"name": "box"}, "transform": [{"filter": "datum.p == 'L3'"}], "mark": {"type": "point", "shape": "circle", "filled": false, "fill": "white", "stroke": "black", "strokeWidth": 0.8, "size": 18, "opacity": 1}, "encoding": {"x": {"field": "r", "type": "quantitative"}, "y": {"field": "m", "type": "quantitative"}}},
            {"data": {"name": "box"}, "transform": [{"filter": "datum.p == 'L3'"}], "mark": {"type": "point", "shape": "circle", "filled": true, "color": "black", "size": 1.5, "opacity": 1}, "encoding": {"x": {"field": "r", "type": "quantitative"}, "y": {"field": "m", "type": "quantitative"}}},
            {"data": {"name": "yt"}, "mark": {"type": "text", "align": "right", "baseline": "middle", "dx": -3}, "encoding": {"x": {"datum": 0.5, "type": "quantitative"}, "y": {"field": "v", "type": "quantitative"}, "text": {"field": "v", "type": "quantitative"}}}
          ]
        },
        {
          "width": 211, "height": 91,
          "layer": [
            {"data": {"name": "box"}, "transform": [{"filter": "datum.p == 'L4'"}], "mark": {"type": "rule", "color": "#8a8a8a", "strokeWidth": 1},
             "encoding": {"x": {"field": "r", "type": "quantitative", "scale": {"domain": [0.5, 30.5], "nice": false}, "axis": {"title": null}},
                          "y": {"field": "lo", "type": "quantitative", "scale": {"domain": [-0.5, 33.5], "nice": false}, "axis": {"title": "RFE+OvO approach"}}, "y2": {"field": "hi"}}},
            {"data": {"name": "sparse"}, "transform": [{"filter": "datum.p == 'L4'"}], "mark": {"type": "rule", "color": "black", "strokeWidth": 1.3, "strokeDash": [1, 3]}, "encoding": {"x": {"field": "r", "type": "quantitative"}, "y": {"field": "lo", "type": "quantitative"}, "y2": {"field": "hi"}}},
            {"data": {"name": "box"}, "transform": [{"filter": "datum.p == 'L4'"}], "mark": {"type": "rule", "color": "black", "strokeWidth": 3.4}, "encoding": {"x": {"field": "r", "type": "quantitative"}, "y": {"field": "q1", "type": "quantitative"}, "y2": {"field": "q3"}}},
            {"data": {"name": "diag"}, "mark": {"type": "line", "color": "#e3191c", "strokeWidth": 1.6}, "encoding": {"x": {"field": "r", "type": "quantitative"}, "y": {"field": "v", "type": "quantitative"}}},
            {"data": {"name": "box"}, "transform": [{"filter": "datum.p == 'L4'"}], "mark": {"type": "point", "shape": "circle", "filled": false, "fill": "white", "stroke": "black", "strokeWidth": 0.8, "size": 18, "opacity": 1}, "encoding": {"x": {"field": "r", "type": "quantitative"}, "y": {"field": "m", "type": "quantitative"}}},
            {"data": {"name": "box"}, "transform": [{"filter": "datum.p == 'L4'"}], "mark": {"type": "point", "shape": "circle", "filled": true, "color": "black", "size": 1.5, "opacity": 1}, "encoding": {"x": {"field": "r", "type": "quantitative"}, "y": {"field": "m", "type": "quantitative"}}},
            {"data": {"name": "yt"}, "mark": {"type": "text", "align": "right", "baseline": "middle", "dx": -3}, "encoding": {"x": {"datum": 0.5, "type": "quantitative"}, "y": {"field": "v", "type": "quantitative"}, "text": {"field": "v", "type": "quantitative"}}}
          ]
        },
        {
          "width": 211, "height": 91,
          "layer": [
            {"data": {"name": "box"}, "transform": [{"filter": "datum.p == 'L5'"}], "mark": {"type": "rule", "color": "#8a8a8a", "strokeWidth": 1},
             "encoding": {"x": {"field": "r", "type": "quantitative", "scale": {"domain": [0.5, 30.5], "nice": false}, "axis": {"title": "rank in the orginal dataset"}},
                          "y": {"field": "lo", "type": "quantitative", "scale": {"domain": [-0.5, 33.5], "nice": false}, "axis": {"title": "T\u2212TEST+OvO approach"}}, "y2": {"field": "hi"}}},
            {"data": {"name": "sparse"}, "transform": [{"filter": "datum.p == 'L5'"}], "mark": {"type": "rule", "color": "black", "strokeWidth": 1.3, "strokeDash": [1, 3]}, "encoding": {"x": {"field": "r", "type": "quantitative"}, "y": {"field": "lo", "type": "quantitative"}, "y2": {"field": "hi"}}},
            {"data": {"name": "box"}, "transform": [{"filter": "datum.p == 'L5'"}], "mark": {"type": "rule", "color": "black", "strokeWidth": 3.4}, "encoding": {"x": {"field": "r", "type": "quantitative"}, "y": {"field": "q1", "type": "quantitative"}, "y2": {"field": "q3"}}},
            {"data": {"name": "diag"}, "mark": {"type": "line", "color": "#e3191c", "strokeWidth": 1.6}, "encoding": {"x": {"field": "r", "type": "quantitative"}, "y": {"field": "v", "type": "quantitative"}}},
            {"data": {"name": "box"}, "transform": [{"filter": "datum.p == 'L5'"}], "mark": {"type": "point", "shape": "circle", "filled": false, "fill": "white", "stroke": "black", "strokeWidth": 0.8, "size": 18, "opacity": 1}, "encoding": {"x": {"field": "r", "type": "quantitative"}, "y": {"field": "m", "type": "quantitative"}}},
            {"data": {"name": "box"}, "transform": [{"filter": "datum.p == 'L5'"}], "mark": {"type": "point", "shape": "circle", "filled": true, "color": "black", "size": 1.5, "opacity": 1}, "encoding": {"x": {"field": "r", "type": "quantitative"}, "y": {"field": "m", "type": "quantitative"}}},
            {"data": {"name": "yt"}, "mark": {"type": "text", "align": "right", "baseline": "middle", "dx": -3}, "encoding": {"x": {"datum": 0.5, "type": "quantitative"}, "y": {"field": "v", "type": "quantitative"}, "text": {"field": "v", "type": "quantitative"}}},
            {"data": {"name": "xt"}, "mark": {"type": "text", "align": "right", "baseline": "middle", "angle": 270, "dx": -3}, "encoding": {"x": {"field": "r", "type": "quantitative"}, "y": {"datum": -0.5, "type": "quantitative"}, "text": {"field": "r", "type": "quantitative"}}}
          ]
        }
      ]
    },
    {
      "spacing": 2,
      "bounds": "flush",
      "vconcat": [
        {
          "width": 211, "height": 91,
          "title": "Gene ranking in the bootstrap data sets",
          "layer": [
            {"data": {"name": "box"}, "transform": [{"filter": "datum.p == 'R1'"}], "mark": {"type": "rule", "color": "#8a8a8a", "strokeWidth": 1},
             "encoding": {"x": {"field": "r", "type": "quantitative", "scale": {"domain": [0.5, 30.5], "nice": false}, "axis": {"title": null}},
                          "y": {"field": "lo", "type": "quantitative", "scale": {"domain": [-0.5, 33.5], "nice": false}, "axis": {"title": "PLS+OvR approach"}}, "y2": {"field": "hi"}}},
            {"data": {"name": "dense"}, "transform": [{"filter": "datum.p == 'R1'"}], "mark": {"type": "rule", "color": "black", "strokeWidth": 1.3, "strokeDash": [1, 1.3]}, "encoding": {"x": {"field": "r", "type": "quantitative"}, "y": {"field": "lo", "type": "quantitative"}, "y2": {"field": "hi"}}},
            {"data": {"name": "box"}, "transform": [{"filter": "datum.p == 'R1'"}], "mark": {"type": "rule", "color": "black", "strokeWidth": 3.4}, "encoding": {"x": {"field": "r", "type": "quantitative"}, "y": {"field": "q1", "type": "quantitative"}, "y2": {"field": "q3"}}},
            {"data": {"values": [{}]}, "mark": {"type": "rule", "color": "black", "strokeWidth": 0.8, "strokeDash": [4, 3]}, "encoding": {"y": {"datum": 30, "type": "quantitative"}}},
            {"data": {"name": "diag"}, "mark": {"type": "line", "color": "#e3191c", "strokeWidth": 1.6}, "encoding": {"x": {"field": "r", "type": "quantitative"}, "y": {"field": "v", "type": "quantitative"}}},
            {"data": {"name": "box"}, "transform": [{"filter": "datum.p == 'R1'"}], "mark": {"type": "point", "shape": "circle", "filled": false, "fill": "white", "stroke": "black", "strokeWidth": 0.8, "size": 18, "opacity": 1}, "encoding": {"x": {"field": "r", "type": "quantitative"}, "y": {"field": "m", "type": "quantitative"}}},
            {"data": {"name": "box"}, "transform": [{"filter": "datum.p == 'R1'"}], "mark": {"type": "point", "shape": "circle", "filled": true, "color": "black", "size": 1.5, "opacity": 1}, "encoding": {"x": {"field": "r", "type": "quantitative"}, "y": {"field": "m", "type": "quantitative"}}},
            {"data": {"name": "yt"}, "mark": {"type": "text", "align": "right", "baseline": "middle", "dx": -3}, "encoding": {"x": {"datum": 0.5, "type": "quantitative"}, "y": {"field": "v", "type": "quantitative"}, "text": {"field": "v", "type": "quantitative"}}}
          ]
        },
        {
          "width": 211, "height": 91,
          "layer": [
            {"data": {"name": "box"}, "transform": [{"filter": "datum.p == 'R2'"}], "mark": {"type": "rule", "color": "#8a8a8a", "strokeWidth": 1},
             "encoding": {"x": {"field": "r", "type": "quantitative", "scale": {"domain": [0.5, 30.5], "nice": false}, "axis": {"title": null}},
                          "y": {"field": "lo", "type": "quantitative", "scale": {"domain": [-0.5, 33.5], "nice": false}, "axis": {"title": "GS+MCLASS approach"}}, "y2": {"field": "hi"}}},
            {"data": {"name": "dense"}, "transform": [{"filter": "datum.p == 'R2'"}], "mark": {"type": "rule", "color": "black", "strokeWidth": 1.3, "strokeDash": [1, 1.3]}, "encoding": {"x": {"field": "r", "type": "quantitative"}, "y": {"field": "lo", "type": "quantitative"}, "y2": {"field": "hi"}}},
            {"data": {"name": "sparse"}, "transform": [{"filter": "datum.p == 'R2'"}], "mark": {"type": "rule", "color": "black", "strokeWidth": 1.3, "strokeDash": [1, 3]}, "encoding": {"x": {"field": "r", "type": "quantitative"}, "y": {"field": "lo", "type": "quantitative"}, "y2": {"field": "hi"}}},
            {"data": {"name": "box"}, "transform": [{"filter": "datum.p == 'R2'"}], "mark": {"type": "rule", "color": "black", "strokeWidth": 3.4}, "encoding": {"x": {"field": "r", "type": "quantitative"}, "y": {"field": "q1", "type": "quantitative"}, "y2": {"field": "q3"}}},
            {"data": {"name": "diag"}, "mark": {"type": "line", "color": "#e3191c", "strokeWidth": 1.6}, "encoding": {"x": {"field": "r", "type": "quantitative"}, "y": {"field": "v", "type": "quantitative"}}},
            {"data": {"name": "box"}, "transform": [{"filter": "datum.p == 'R2'"}], "mark": {"type": "point", "shape": "circle", "filled": false, "fill": "white", "stroke": "black", "strokeWidth": 0.8, "size": 18, "opacity": 1}, "encoding": {"x": {"field": "r", "type": "quantitative"}, "y": {"field": "m", "type": "quantitative"}}},
            {"data": {"name": "box"}, "transform": [{"filter": "datum.p == 'R2'"}], "mark": {"type": "point", "shape": "circle", "filled": true, "color": "black", "size": 1.5, "opacity": 1}, "encoding": {"x": {"field": "r", "type": "quantitative"}, "y": {"field": "m", "type": "quantitative"}}},
            {"data": {"name": "yt"}, "mark": {"type": "text", "align": "right", "baseline": "middle", "dx": -3}, "encoding": {"x": {"datum": 0.5, "type": "quantitative"}, "y": {"field": "v", "type": "quantitative"}, "text": {"field": "v", "type": "quantitative"}}}
          ]
        },
        {
          "width": 211, "height": 91,
          "layer": [
            {"data": {"name": "box"}, "transform": [{"filter": "datum.p == 'R3'"}], "mark": {"type": "rule", "color": "#8a8a8a", "strokeWidth": 1},
             "encoding": {"x": {"field": "r", "type": "quantitative", "scale": {"domain": [0.5, 30.5], "nice": false}, "axis": {"title": null}},
                          "y": {"field": "lo", "type": "quantitative", "scale": {"domain": [-0.5, 33.5], "nice": false}, "axis": {"title": "GS+OvR approach"}}, "y2": {"field": "hi"}}},
            {"data": {"name": "scat"}, "transform": [{"filter": "datum.p == 'R3'"}], "mark": {"type": "rule", "color": "black", "strokeWidth": 1.3, "strokeDash": [1.2, 9]}, "encoding": {"x": {"field": "r", "type": "quantitative"}, "y": {"field": "lo", "type": "quantitative"}, "y2": {"field": "hi"}}},
            {"data": {"name": "box"}, "transform": [{"filter": "datum.p == 'R3'"}], "mark": {"type": "rule", "color": "black", "strokeWidth": 3.4}, "encoding": {"x": {"field": "r", "type": "quantitative"}, "y": {"field": "q1", "type": "quantitative"}, "y2": {"field": "q3"}}},
            {"data": {"name": "diag"}, "mark": {"type": "line", "color": "#e3191c", "strokeWidth": 1.6}, "encoding": {"x": {"field": "r", "type": "quantitative"}, "y": {"field": "v", "type": "quantitative"}}},
            {"data": {"name": "box"}, "transform": [{"filter": "datum.p == 'R3'"}], "mark": {"type": "point", "shape": "circle", "filled": false, "fill": "white", "stroke": "black", "strokeWidth": 0.8, "size": 18, "opacity": 1}, "encoding": {"x": {"field": "r", "type": "quantitative"}, "y": {"field": "m", "type": "quantitative"}}},
            {"data": {"name": "box"}, "transform": [{"filter": "datum.p == 'R3'"}], "mark": {"type": "point", "shape": "circle", "filled": true, "color": "black", "size": 1.5, "opacity": 1}, "encoding": {"x": {"field": "r", "type": "quantitative"}, "y": {"field": "m", "type": "quantitative"}}},
            {"data": {"name": "yt"}, "mark": {"type": "text", "align": "right", "baseline": "middle", "dx": -3}, "encoding": {"x": {"datum": 0.5, "type": "quantitative"}, "y": {"field": "v", "type": "quantitative"}, "text": {"field": "v", "type": "quantitative"}}}
          ]
        },
        {
          "width": 211, "height": 91,
          "layer": [
            {"data": {"name": "box"}, "transform": [{"filter": "datum.p == 'R4'"}], "mark": {"type": "rule", "color": "#8a8a8a", "strokeWidth": 1},
             "encoding": {"x": {"field": "r", "type": "quantitative", "scale": {"domain": [0.5, 30.5], "nice": false}, "axis": {"title": null}},
                          "y": {"field": "lo", "type": "quantitative", "scale": {"domain": [-0.5, 33.5], "nice": false}, "axis": {"title": "RFE+OvR approach"}}, "y2": {"field": "hi"}}},
            {"data": {"name": "scat"}, "transform": [{"filter": "datum.p == 'R4'"}], "mark": {"type": "rule", "color": "black", "strokeWidth": 1.3, "strokeDash": [1.2, 9]}, "encoding": {"x": {"field": "r", "type": "quantitative"}, "y": {"field": "lo", "type": "quantitative"}, "y2": {"field": "hi"}}},
            {"data": {"name": "box"}, "transform": [{"filter": "datum.p == 'R4'"}], "mark": {"type": "rule", "color": "black", "strokeWidth": 3.4}, "encoding": {"x": {"field": "r", "type": "quantitative"}, "y": {"field": "q1", "type": "quantitative"}, "y2": {"field": "q3"}}},
            {"data": {"name": "diag"}, "mark": {"type": "line", "color": "#e3191c", "strokeWidth": 1.6}, "encoding": {"x": {"field": "r", "type": "quantitative"}, "y": {"field": "v", "type": "quantitative"}}},
            {"data": {"name": "box"}, "transform": [{"filter": "datum.p == 'R4'"}], "mark": {"type": "point", "shape": "circle", "filled": false, "fill": "white", "stroke": "black", "strokeWidth": 0.8, "size": 18, "opacity": 1}, "encoding": {"x": {"field": "r", "type": "quantitative"}, "y": {"field": "m", "type": "quantitative"}}},
            {"data": {"name": "box"}, "transform": [{"filter": "datum.p == 'R4'"}], "mark": {"type": "point", "shape": "circle", "filled": true, "color": "black", "size": 1.5, "opacity": 1}, "encoding": {"x": {"field": "r", "type": "quantitative"}, "y": {"field": "m", "type": "quantitative"}}},
            {"data": {"name": "yt"}, "mark": {"type": "text", "align": "right", "baseline": "middle", "dx": -3}, "encoding": {"x": {"datum": 0.5, "type": "quantitative"}, "y": {"field": "v", "type": "quantitative"}, "text": {"field": "v", "type": "quantitative"}}}
          ]
        },
        {
          "width": 211, "height": 91,
          "layer": [
            {"data": {"name": "box"}, "transform": [{"filter": "datum.p == 'R5'"}], "mark": {"type": "rule", "color": "#8a8a8a", "strokeWidth": 1},
             "encoding": {"x": {"field": "r", "type": "quantitative", "scale": {"domain": [0.5, 30.5], "nice": false}, "axis": {"title": "rank in the orginal dataset"}},
                          "y": {"field": "lo", "type": "quantitative", "scale": {"domain": [-0.5, 33.5], "nice": false}, "axis": {"title": "T\u2212TEST+OvR approach"}}, "y2": {"field": "hi"}}},
            {"data": {"name": "dense"}, "transform": [{"filter": "datum.p == 'R5'"}], "mark": {"type": "rule", "color": "black", "strokeWidth": 1.3, "strokeDash": [1, 1.3]}, "encoding": {"x": {"field": "r", "type": "quantitative"}, "y": {"field": "lo", "type": "quantitative"}, "y2": {"field": "hi"}}},
            {"data": {"name": "sparse"}, "transform": [{"filter": "datum.p == 'R5'"}], "mark": {"type": "rule", "color": "black", "strokeWidth": 1.3, "strokeDash": [1, 3]}, "encoding": {"x": {"field": "r", "type": "quantitative"}, "y": {"field": "lo", "type": "quantitative"}, "y2": {"field": "hi"}}},
            {"data": {"name": "box"}, "transform": [{"filter": "datum.p == 'R5'"}], "mark": {"type": "rule", "color": "black", "strokeWidth": 3.4}, "encoding": {"x": {"field": "r", "type": "quantitative"}, "y": {"field": "q1", "type": "quantitative"}, "y2": {"field": "q3"}}},
            {"data": {"name": "diag"}, "mark": {"type": "line", "color": "#e3191c", "strokeWidth": 1.6}, "encoding": {"x": {"field": "r", "type": "quantitative"}, "y": {"field": "v", "type": "quantitative"}}},
            {"data": {"name": "box"}, "transform": [{"filter": "datum.p == 'R5'"}], "mark": {"type": "point", "shape": "circle", "filled": false, "fill": "white", "stroke": "black", "strokeWidth": 0.8, "size": 18, "opacity": 1}, "encoding": {"x": {"field": "r", "type": "quantitative"}, "y": {"field": "m", "type": "quantitative"}}},
            {"data": {"name": "box"}, "transform": [{"filter": "datum.p == 'R5'"}], "mark": {"type": "point", "shape": "circle", "filled": true, "color": "black", "size": 1.5, "opacity": 1}, "encoding": {"x": {"field": "r", "type": "quantitative"}, "y": {"field": "m", "type": "quantitative"}}},
            {"data": {"name": "yt"}, "mark": {"type": "text", "align": "right", "baseline": "middle", "dx": -3}, "encoding": {"x": {"datum": 0.5, "type": "quantitative"}, "y": {"field": "v", "type": "quantitative"}, "text": {"field": "v", "type": "quantitative"}}},
            {"data": {"name": "xt"}, "mark": {"type": "text", "align": "right", "baseline": "middle", "angle": 270, "dx": -3}, "encoding": {"x": {"field": "r", "type": "quantitative"}, "y": {"datum": -0.5, "type": "quantitative"}, "text": {"field": "r", "type": "quantitative"}}}
          ]
        }
      ]
    }
  ],
  "spacing": 0
}
